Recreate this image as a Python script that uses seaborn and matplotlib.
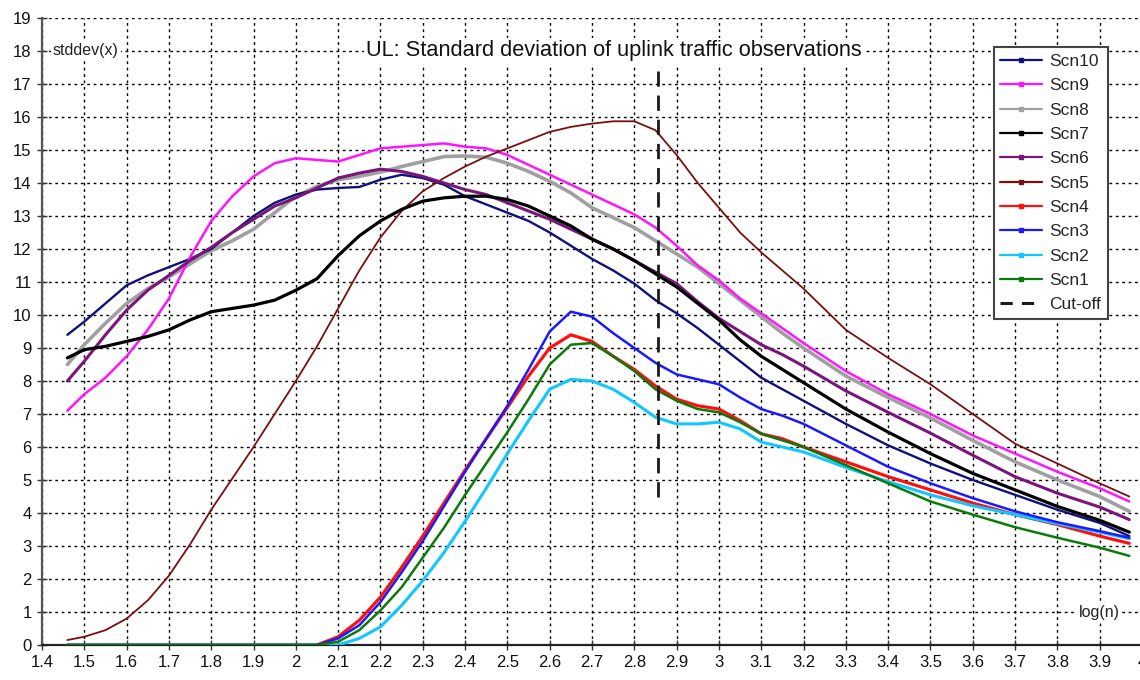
import matplotlib
matplotlib.use("Agg")
import matplotlib.pyplot as plt
from matplotlib.lines import Line2D
import seaborn as sns
import pandas as pd

# ---------------- data ----------------
log_n = [1.46, 1.5, 1.55, 1.6, 1.65, 1.7, 1.75, 1.8, 1.85, 1.9, 1.95, 2.0, 2.05, 2.1, 2.15,
         2.2, 2.25, 2.3, 2.35, 2.4, 2.45, 2.5, 2.55, 2.6, 2.65, 2.7, 2.75, 2.8, 2.85, 2.9,
         2.95, 3.0, 3.05, 3.1, 3.15, 3.2, 3.3, 3.4, 3.5, 3.6, 3.7, 3.8, 3.9, 3.97]

scn10 = [9.4, 9.8, 10.35, 10.9, 11.2, 11.45, 11.7, 12.0, 12.5, 13.0, 13.4, 13.65, 13.8, 13.85,
         13.88, 14.1, 14.25, 14.15, 13.95, 13.6, 13.35, 13.1, 12.85, 12.5, 12.1, 11.7, 11.35,
         10.95, 10.45, 10.05, 9.6, 9.1, 8.6, 8.1, 7.75, 7.4, 6.7, 6.05, 5.5, 5.0, 4.55, 4.1,
         3.7, 3.3]
scn9 = [7.1, 7.6, 8.1, 8.75, 9.55, 10.5, 11.75, 12.85, 13.6, 14.2, 14.6, 14.75, 14.7, 14.65,
        14.85, 15.05, 15.1, 15.15, 15.2, 15.1, 15.05, 14.85, 14.55, 14.25, 13.95, 13.65, 13.35,
        13.05, 12.65, 12.1, 11.5, 11.05, 10.5, 10.05, 9.6, 9.15, 8.3, 7.6, 7.0, 6.35, 5.8,
        5.25, 4.75, 4.35]
scn8 = [8.5, 9.1, 9.75, 10.35, 10.8, 11.15, 11.55, 11.95, 12.25, 12.6, 13.1, 13.6, 13.9, 14.1,
        14.2, 14.33, 14.5, 14.65, 14.8, 14.82, 14.78, 14.6, 14.35, 14.05, 13.7, 13.25, 12.95,
        12.65, 12.25, 11.85, 11.45, 10.95, 10.45, 9.95, 9.45, 9.0, 8.15, 7.5, 6.88, 6.2, 5.55,
        5.0, 4.5, 4.05]
scn7 = [8.7, 8.95, 9.05, 9.2, 9.35, 9.55, 9.85, 10.1, 10.2, 10.3, 10.45, 10.75, 11.1, 11.8,
        12.4, 12.85, 13.2, 13.45, 13.55, 13.6, 13.6, 13.5, 13.3, 13.0, 12.7, 12.3, 12.0,
        11.65, 11.25, 10.85, 10.35, 9.85, 9.25, 8.75, 8.35, 7.95, 7.15, 6.45, 5.8, 5.2, 4.7,
        4.2, 3.78, 3.42]
scn6 = [8.0, 8.6, 9.4, 10.15, 10.75, 11.2, 11.65, 12.05, 12.5, 12.9, 13.3, 13.55, 13.85,
        14.15, 14.3, 14.42, 14.35, 14.2, 14.0, 13.8, 13.65, 13.4, 13.15, 12.9, 12.6, 12.3,
        12.0, 11.65, 11.3, 10.95, 10.4, 9.9, 9.5, 9.1, 8.8, 8.45, 7.7, 7.05, 6.42, 5.75, 5.1,
        4.6, 4.18, 3.8]
scn5 = [0.15, 0.25, 0.45, 0.8, 1.35, 2.1, 3.05, 4.1, 5.05, 6.0, 7.0, 8.0, 9.05, 10.2, 11.35,
        12.35, 13.15, 13.75, 14.15, 14.5, 14.8, 15.05, 15.3, 15.55, 15.7, 15.8, 15.87, 15.87,
        15.6, 14.85, 14.0, 13.25, 12.5, 11.9, 11.35, 10.8, 9.55, 8.7, 7.9, 7.0, 6.1, 5.5,
        4.9, 4.5]
scn4 = [0, 0, 0, 0, 0, 0, 0, 0, 0, 0, 0, 0, 0, 0.25, 0.75, 1.45, 2.35,
        3.3, 4.3, 5.3, 6.25, 7.2, 8.15, 9.0, 9.4, 9.2, 8.75, 8.35, 7.85,
        7.45, 7.25, 7.15, 6.8, 6.4, 6.25, 6.0, 5.55, 5.1, 4.7, 4.3, 3.95, 3.65, 3.3, 3.08]
scn3 = [0, 0, 0, 0, 0, 0, 0, 0, 0, 0, 0, 0, 0, 0.2, 0.6, 1.3, 2.2,
        3.15, 4.2, 5.25, 6.25, 7.25, 8.35, 9.5, 10.1, 9.95, 9.45, 9.0, 8.55,
        8.2, 8.05, 7.9, 7.5, 7.15, 6.95, 6.7, 6.05, 5.4, 4.9, 4.45, 4.05, 3.72, 3.45, 3.25]
scn2 = [0, 0, 0, 0, 0, 0, 0, 0, 0, 0, 0, 0, 0, 0, 0.2, 0.55, 1.2,
        1.95, 2.8, 3.75, 4.75, 5.8, 6.8, 7.75, 8.05, 8.0, 7.75, 7.35, 6.9,
        6.7, 6.7, 6.75, 6.55, 6.15, 6.0, 5.85, 5.38, 4.95, 4.55, 4.22, 3.95, 3.68, 3.42, 3.22]
scn1 = [0, 0, 0, 0, 0, 0, 0, 0, 0, 0, 0, 0, 0, 0.1, 0.45, 1.05, 1.75,
        2.65, 3.55, 4.55, 5.5, 6.45, 7.45, 8.5, 9.1, 9.15, 8.75, 8.3, 7.75,
        7.4, 7.15, 7.05, 6.75, 6.4, 6.2, 6.0, 5.45, 4.9, 4.35, 3.95, 3.57, 3.25, 2.95, 2.7]

series_names = ["Scn10", "Scn9", "Scn8", "Scn7", "Scn6", "Scn5", "Scn4", "Scn3", "Scn2", "Scn1"]
series_values = [scn10, scn9, scn8, scn7, scn6, scn5, scn4, scn3, scn2, scn1]

cutoff_x = 2.856
cutoff_y = [4.5, 17.4]

x_ticks = [1.4, 1.5, 1.6, 1.7, 1.8, 1.9, 2.0, 2.1, 2.2, 2.3, 2.4, 2.5, 2.6, 2.7, 2.8,
           2.9, 3.0, 3.1, 3.2, 3.3, 3.4, 3.5, 3.6, 3.7, 3.8, 3.9, 4.0]
x_tick_labels = ["1.4", "1.5", "1.6", "1.7", "1.8", "1.9", "2", "2.1", "2.2", "2.3", "2.4",
                 "2.5", "2.6", "2.7", "2.8", "2.9", "3", "3.1", "3.2", "3.3", "3.4", "3.5",
                 "3.6", "3.7", "3.8", "3.9", "4"]
y_ticks = list(range(0, 20))

title_text = "UL: Standard deviation of uplink traffic observations"
y_label_text = "stddev(x)"
x_label_text = "log(n)"
cutoff_label = "Cut-off"

# ---------------- styles ----------------
colors = {"Scn10": "#10107a", "Scn9": "#ff14ff", "Scn8": "#a0a0a0", "Scn7": "#000000",
          "Scn6": "#7a167a", "Scn5": "#7a0f0f", "Scn4": "#ff1010", "Scn3": "#1a1aff",
          "Scn2": "#10c8ff", "Scn1": "#0a7a0a"}
widths = {"Scn10": 1.7, "Scn9": 1.8, "Scn8": 2.6, "Scn7": 2.3, "Scn6": 2.2, "Scn5": 1.3,
          "Scn4": 2.3, "Scn3": 1.8, "Scn2": 2.2, "Scn1": 1.8}
zorders = {"Scn10": 3, "Scn9": 3, "Scn8": 2.5, "Scn7": 3.2, "Scn6": 3.1, "Scn5": 3,
           "Scn4": 3, "Scn3": 3.1, "Scn2": 3, "Scn1": 3.2}

df = pd.DataFrame(
    [(n, x, v) for n, vals in zip(series_names, series_values) for x, v in zip(log_n, vals)],
    columns=["series", "log_n", "stddev"],
)

sns.set_theme(style="white")
plt.rcParams["font.family"] = ["Liberation Sans", "DejaVu Sans"]

fig = plt.figure(figsize=(11.4, 6.8), dpi=100)
ax = fig.add_axes([42 / 1140, 35 / 680, 1100 / 1140, 627 / 680])

for name in series_names:
    sub = df[df["series"] == name]
    sns.lineplot(data=sub, x="log_n", y="stddev", color=colors[name], linewidth=widths[name],
                 estimator=None, legend=False, ax=ax, zorder=zorders[name])

ax.plot([cutoff_x, cutoff_x], cutoff_y, color="#1a1a1a", linewidth=2.0,
        linestyle=(0, (5.5, 3.2)), zorder=4)

ax.set_xlim(1.4, 4.0)
ax.set_ylim(0, 19)
ax.set_xticks(x_ticks)
ax.set_xticklabels(x_tick_labels)
ax.set_yticks(y_ticks)
ax.set_xlabel("")
ax.set_ylabel("")
ax.tick_params(axis="both", labelsize=12, direction="inout", length=7, width=1,
               color="#333333", labelcolor="#111111", pad=4, bottom=True, left=True)

ax.grid(True, color="#000000", linestyle=(0, (2, 2.6)), linewidth=1.0)
ax.set_axisbelow(True)
for side in ["top", "right"]:
    ax.spines[side].set_visible(False)
ax.spines["left"].set_color("#555555")
ax.spines["left"].set_linewidth(1.6)
ax.spines["bottom"].set_color("#222222")
ax.spines["bottom"].set_linewidth(1.6)

box = dict(facecolor="white", edgecolor="none", pad=1.5)
ax.text(2.752, 18.0, title_text, ha="center", va="center", fontsize=15.7,
        color="#111111", bbox=box, zorder=5)
ax.text(1.504, 18.0, y_label_text, ha="center", va="center", fontsize=11.5,
        color="#222222", bbox=box, zorder=5)
ax.text(3.9, 1.0, x_label_text, ha="center", va="center", fontsize=11.5,
        color="#222222", bbox=box, zorder=5)

handles = [Line2D([], [], color=colors[n], linewidth=1.6, marker="s", markersize=2.2)
           for n in series_names]
handles.append(Line2D([], [], color="#1a1a1a", linewidth=2.2, linestyle=(0, (4, 3))))
labels = series_names + [cutoff_label]
leg = ax.legend(handles, labels, loc="upper right", bbox_to_anchor=(0.969, 0.954),
                borderaxespad=0, fontsize=12.5, frameon=True, fancybox=False,
                edgecolor="#444444", framealpha=1, handlelength=2.4, labelspacing=0.53,
                borderpad=0.4, handletextpad=0.4)
leg.get_frame().set_linewidth(1.5)
leg.set_zorder(6)

fig.savefig("out.png", dpi=100)
